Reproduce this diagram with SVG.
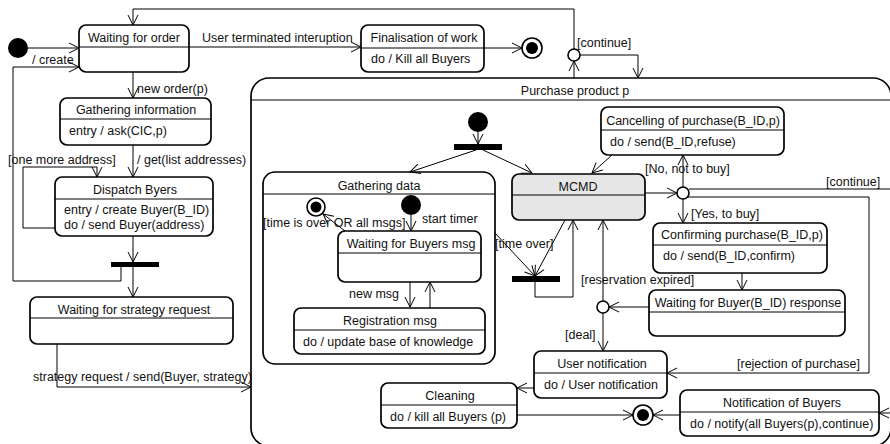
<svg xmlns="http://www.w3.org/2000/svg" width="890" height="444" viewBox="0 0 890 444">
<defs>
<marker id="arr" markerUnits="userSpaceOnUse" markerWidth="12" markerHeight="12" viewBox="0 0 12 12" refX="11" refY="6" orient="auto">
<path d="M1,1 L11,6 L1,11" fill="none" stroke="#000" stroke-width="1"/>
</marker>
<style>
.b{fill:#fff;stroke:#000;stroke-width:1.7}
.g{fill:#e6e6e6;stroke:#000;stroke-width:1.7}
.s{stroke:#000;stroke-width:1;fill:none}
.c{stroke:#000;stroke-width:1;fill:none}
.a{marker-end:url(#arr)}
.t{font-family:"Liberation Sans",Arial,sans-serif;font-size:12.5px;fill:#111}
.m{text-anchor:middle}
.ini{fill:#000}
.ch{fill:#fff;stroke:#000;stroke-width:1.6}
</style>
</defs>

<g id="purchase">
<rect class="b" x="251" y="78" width="640" height="368" rx="18"/>
<line class="s" x1="251" y1="100" x2="891" y2="100"/>
<text class="t m" x="575" y="95">Purchase product p</text>
</g>

<g id="gathering_data">
<rect class="b" x="263" y="172" width="232" height="192" rx="12"/>
<line class="s" x1="263" y1="194" x2="495" y2="194"/>
<text class="t m" x="379" y="190">Gathering data</text>
</g>

<g id="waiting_order">
<rect class="b" x="79" y="25" width="110" height="47" rx="7"/>
<line class="s" x1="79" y1="47" x2="189" y2="47"/>
<text class="t m" x="134" y="42">Waiting for order</text>
</g>

<g id="finalisation">
<rect class="b" x="361" y="25" width="123" height="47" rx="7"/>
<line class="s" x1="361" y1="48" x2="484" y2="48"/>
<text class="t m" x="424" y="42">Finalisation of work</text>
<text class="t" x="371" y="63">do / Kill all Buyers</text>
</g>

<g id="gathering_info">
<rect class="b" x="60" y="98" width="151" height="47" rx="7"/>
<line class="s" x1="60" y1="119" x2="211" y2="119"/>
<text class="t m" x="136" y="114">Gathering information</text>
<text class="t" x="69" y="135">entry / ask(CIC,p)</text>
</g>

<g id="dispatch">
<rect class="b" x="55" y="177" width="158" height="59" rx="7"/>
<line class="s" x1="55" y1="199" x2="213" y2="199"/>
<text class="t m" x="135" y="194">Dispatch Byers</text>
<text class="t" x="64" y="214">entry / create Buyer(B_ID)</text>
<text class="t" x="64" y="229">do / send Buyer(address)</text>
</g>

<g id="strategy">
<rect class="b" x="30" y="297" width="203" height="47" rx="7"/>
<line class="s" x1="30" y1="318" x2="233" y2="318"/>
<text class="t m" x="134" y="314">Waiting for strategy request</text>
</g>

<g id="waiting_buyers_msg">
<rect class="b" x="338" y="231" width="143" height="51" rx="7"/>
<line class="s" x1="338" y1="253" x2="481" y2="253"/>
<text class="t m" x="411" y="248">Waiting for Buyers msg</text>
</g>

<g id="registration">
<rect class="b" x="294" y="308" width="191" height="46" rx="7"/>
<line class="s" x1="294" y1="330" x2="485" y2="330"/>
<text class="t m" x="390" y="325">Registration msg</text>
<text class="t" x="303" y="346">do / update base of knowledge</text>
</g>

<g id="mcmd">
<rect class="g" x="512" y="174" width="133" height="46" rx="7"/>
<line class="s" x1="512" y1="195" x2="645" y2="195"/>
<text class="t m" x="578" y="191">MCMD</text>
</g>

<g id="cancelling">
<rect class="b" x="601" y="107" width="183" height="48" rx="7"/>
<line class="s" x1="601" y1="130" x2="784" y2="130"/>
<text class="t m" x="693" y="125">Cancelling of purchase(B_ID,p)</text>
<text class="t" x="610" y="146">do / send(B_ID,refuse)</text>
</g>

<g id="confirming">
<rect class="b" x="653" y="223" width="174" height="50" rx="7"/>
<line class="s" x1="653" y1="245" x2="827" y2="245"/>
<text class="t m" x="742" y="239">Confirming purchase(B_ID,p)</text>
<text class="t" x="663" y="260">do / send(B_ID,confirm)</text>
</g>

<g id="waiting_response">
<rect class="b" x="649" y="290" width="196" height="46" rx="7"/>
<line class="s" x1="649" y1="312" x2="845" y2="312"/>
<text class="t m" x="748" y="307">Waiting for Buyer(B_ID) response</text>
</g>

<g id="user_notification">
<rect class="b" x="534" y="351" width="133" height="47" rx="7"/>
<line class="s" x1="534" y1="373" x2="667" y2="373"/>
<text class="t m" x="602" y="368">User notification</text>
<text class="t" x="544" y="389">do / User notification</text>
</g>

<g id="cleaning">
<rect class="b" x="381" y="383" width="136" height="45" rx="7"/>
<line class="s" x1="381" y1="405" x2="517" y2="405"/>
<text class="t m" x="450" y="400">Cleaning</text>
<text class="t" x="390" y="421">do / kill all Buyers (p)</text>
</g>

<g id="notification_buyers">
<rect class="b" x="680" y="390" width="199" height="46" rx="7"/>
<line class="s" x1="680" y1="412" x2="879" y2="412"/>
<text class="t m" x="782" y="407">Notification of Buyers</text>
<text class="t" x="690" y="428">do / notify(all Buyers(p),continue)</text>
</g>

<g id="pseudostates">
<circle class="ini" cx="18" cy="48" r="10"/>
<circle class="ini" cx="478" cy="122" r="10"/>
<circle class="ini" cx="411" cy="205" r="10"/>
<rect class="ini" x="111" y="262" width="48" height="5"/>
<rect class="ini" x="454" y="144" width="48" height="6"/>
<rect class="ini" x="512" y="276" width="48" height="6"/>
<circle class="ch" cx="574" cy="55" r="6"/>
<circle class="ch" cx="683" cy="193" r="6"/>
<circle class="ch" cx="603" cy="307" r="6"/>
<circle class="ch" cx="532" cy="48" r="10"/>
<circle class="ini" cx="532" cy="48" r="6"/>
<circle class="ch" cx="316" cy="207" r="9"/>
<circle class="ini" cx="316" cy="207" r="5.5"/>
<circle class="ch" cx="643" cy="415" r="10"/>
<circle class="ini" cx="643" cy="415" r="6"/>
</g>

<g id="connectors">
<path class="c a" d="M28,48 H79"/>
<path class="c a" d="M121,267 V281 H13 V67 H79"/>
<path class="c a" d="M189,47 H361"/>
<path class="c a" d="M484,48 H522"/>
<path class="c a" d="M574,49 V9 H133 V25"/>
<path class="c a" d="M574,78 V61"/>
<path class="c a" d="M580,55 H638 V78"/>
<path class="c a" d="M133,72 V98"/>
<path class="c a" d="M133,145 V177"/>
<path class="c a" d="M55,228 H23 V167 H97 V177"/>
<path class="c a" d="M133,236 V262"/>
<path class="c a" d="M133,267 V297"/>
<path class="c a" d="M57,344 V387 H251"/>
<path class="c a" d="M478,132 V144"/>
<path class="c a" d="M476,150 L410,172"/>
<path class="c a" d="M483,150 L532,173"/>
<path class="c a" d="M612,155 L592,173"/>
<path class="c a" d="M411,215 V231"/>
<path class="c a" d="M345,231 L323,214"/>
<path class="c a" d="M410,282 V307"/>
<path class="c a" d="M430,308 V282"/>
<path class="c a" d="M495,233 L535,276"/>
<path class="c a" d="M565,220 L535,276"/>
<path class="c a" d="M535,282 V297 H573 V220"/>
<path class="c a" d="M645,193 H677"/>
<path class="c a" d="M683,187 V155"/>
<path class="c a" d="M683,199 V223"/>
<path class="c" d="M689,189 H890"/>
<path class="c a" d="M688,197 H869 V373 H667"/>
<path class="c a" d="M742,273 V290"/>
<path class="c a" d="M649,307 H609"/>
<path class="c a" d="M603,301 V220"/>
<path class="c a" d="M603,313 V351"/>
<path class="c a" d="M534,388 H517"/>
<path class="c a" d="M517,415 H633"/>
<path class="c a" d="M680,415 H653"/>
<path class="c a" d="M891,413 H879"/>
</g>

<g id="labels">
<text class="t" x="32" y="64">/ create</text>
<text class="t" x="202" y="42">User terminated interuption</text>
<text class="t" x="577" y="47">[continue]</text>
<text class="t" x="137" y="93">new order(p)</text>
<text class="t" x="8" y="164">[one more address]</text>
<text class="t" x="137" y="164">/ get(list addresses)</text>
<text class="t" x="33" y="381">strategy request / send(Buyer, strategy)</text>
<text class="t" x="263" y="227">[time is over OR all msgs]</text>
<text class="t" x="422" y="223">start timer</text>
<text class="t" x="349" y="298">new msg</text>
<text class="t" x="495" y="248">[time over]</text>
<text class="t" x="645" y="173">[No, not to buy]</text>
<text class="t" x="826" y="186">[continue]</text>
<text class="t" x="691" y="218">[Yes, to buy]</text>
<text class="t" x="581" y="284">[reservation expired]</text>
<text class="t" x="565" y="339">[deal]</text>
<text class="t" x="737" y="368">[rejection of purchase]</text>
</g>
</svg>
